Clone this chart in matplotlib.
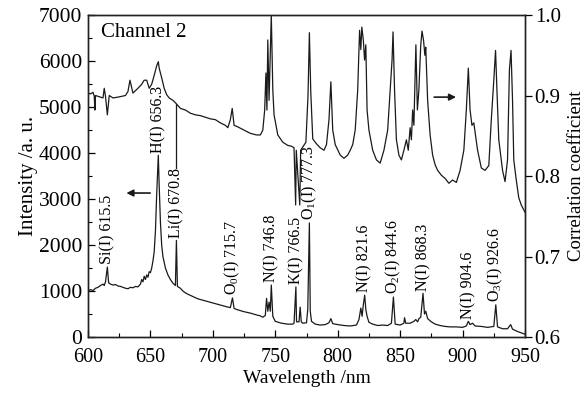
import numpy as np
import matplotlib
matplotlib.use("Agg")
import matplotlib.pyplot as plt
from matplotlib.ticker import MultipleLocator, FormatStrFormatter

plt.rcParams['font.family'] = ['Liberation Serif', 'DejaVu Serif']
plt.rcParams['mathtext.fontset'] = 'custom'
plt.rcParams['mathtext.rm'] = 'Liberation Serif'
plt.rcParams['mathtext.it'] = 'Liberation Serif:italic'

# emission spectrum (left axis)
wl_int = [600, 602, 604, 606, 608, 610, 612, 613, 614, 615.5, 616.5, 618, 620, 622, 624, 626, 628,
          630, 632, 634, 636, 638, 640, 642, 643, 644, 645, 646, 647, 648, 649, 650, 651, 652, 653,
          654, 655, 656.3, 657, 658, 659, 660, 662, 664, 666, 668, 670, 670.8, 671.6, 674, 676, 678,
          680, 684, 688, 692, 696, 700, 704, 708, 712, 714, 715.7, 717, 720, 725, 730, 735, 738, 740,
          742, 743, 744, 745, 746, 746.8, 748, 750, 755, 760, 764, 765, 766.5, 767, 769, 769.9, 770.8,
          772, 775, 776, 777.3, 778, 779, 782, 786, 790, 793, 794.5, 796, 800, 805, 810, 815, 817,
          818.5, 819.5, 820.5, 821.6, 822.5, 823.5, 825, 828, 832, 836, 840, 843, 844.6, 846, 850,
          853, 853.5, 854.5, 858, 861, 862.5, 864, 865, 866.5, 868.3, 869.5, 870.5, 872, 875, 878,
          882, 886, 890, 895, 900, 903, 904.6, 906, 908, 910, 915, 920, 925, 926.6, 928, 932, 936,
          938.5, 940, 944, 947, 950]
intensity = [1000, 1030, 1010, 1060, 1080, 1120, 1150, 1120, 1200, 1520, 1180, 1150, 1130, 1140, 1110,
             1100, 1080, 1060, 1050, 1080, 1070, 1100, 1090, 1150, 1250, 1200, 1320, 1250, 1350, 1300,
             1420, 1400, 1500, 1650, 1850, 2300, 3100, 3950, 3300, 2500, 2000, 1750, 1500, 1350, 1250,
             1170, 1120, 2100, 1100, 1060, 1000, 960, 930, 880, 830, 800, 770, 740, 710, 680, 650, 640,
             850, 620, 590, 550, 520, 480, 460, 430, 470, 840, 560, 760, 560, 1130, 450, 340, 300, 280,
             280, 300, 1090, 330, 330, 650, 330, 300, 310, 600, 2480, 560, 340, 280, 260, 270, 310, 400,
             290, 270, 250, 240, 260, 380, 630, 450, 700, 910, 600, 450, 320, 280, 250, 260, 250, 300,
             870, 280, 260, 300, 420, 300, 300, 340, 380, 330, 400, 430, 950, 500, 560, 400, 330, 280,
             250, 230, 220, 220, 210, 240, 340, 270, 300, 240, 230, 210, 230, 700, 220, 180, 180, 270,
             170, 120, 90, 60]

# correlation coefficient (right axis)
wl_corr = [600, 602, 604, 605, 605.5, 606, 610, 612, 613, 614, 615.5, 617, 620, 624, 627, 630, 632, 633.6,
           636, 640, 643, 645, 647, 649, 651, 653, 655, 656.3, 657, 659, 661, 663, 665, 668, 670, 674,
           678, 682, 686, 690, 694, 698, 702, 706, 710, 712, 714, 715.5, 717, 720, 725, 730, 735, 738,
           740, 741.5, 742.5, 743.3, 744, 745, 746.8, 748, 749, 752, 756, 760, 763, 765, 766.3, 766.8,
           769.6, 770.3, 772, 774.5, 776.2, 777.3, 778.4, 780, 783, 786, 789, 791, 793, 794.5, 796, 798,
           802, 805, 808, 810, 812, 814, 816, 817.5, 818.5, 819.3, 820.5, 821.5, 822.5, 823.5, 825, 828,
           831, 834, 837, 840, 843.5, 844.3, 845.5, 847, 849, 851, 853, 855, 856.5, 858, 859, 860, 861,
           862.6, 863.8, 865, 866.5, 867.5, 868.7, 869.8, 870.5, 872, 874, 876, 878, 880, 883, 886, 889,
           892, 895, 898, 901, 903, 904.6, 906, 907.5, 909, 912, 915, 918, 921, 923, 925, 926.4, 927.5,
           929, 932, 934, 936, 937.5, 938.8, 940, 941, 943, 945, 947, 950]
corr = [0.903, 0.902, 0.904, 0.899, 0.882, 0.900, 0.898, 0.897, 0.909, 0.899, 0.876, 0.900, 0.897,
        0.898, 0.899, 0.900, 0.905, 0.919, 0.903, 0.909, 0.914, 0.919, 0.919, 0.909, 0.914, 0.925, 0.937,
        0.942, 0.934, 0.922, 0.909, 0.901, 0.897, 0.894, 0.891, 0.884, 0.882, 0.878, 0.876, 0.875, 0.873,
        0.871, 0.870, 0.866, 0.863, 0.860, 0.870, 0.884, 0.863, 0.861, 0.857, 0.853, 0.851, 0.851, 0.857,
        0.882, 0.928, 0.882, 0.969, 0.894, 1.000, 0.907, 0.876, 0.851, 0.842, 0.838, 0.837, 0.835, 0.764,
        0.832, 0.764, 0.832, 0.836, 0.842, 0.900, 0.978, 0.905, 0.846, 0.840, 0.835, 0.832, 0.839, 0.870,
        0.917, 0.857, 0.839, 0.826, 0.822, 0.826, 0.832, 0.839, 0.857, 0.907, 0.981, 0.957, 0.985, 0.969,
        0.944, 0.963, 0.882, 0.857, 0.832, 0.820, 0.816, 0.832, 0.857, 0.944, 0.979, 0.907, 0.845, 0.826,
        0.820, 0.832, 0.845, 0.832, 0.860, 0.845, 0.882, 0.863, 0.963, 0.882, 0.907, 0.963, 0.980, 0.969,
        0.950, 0.960, 0.894, 0.851, 0.826, 0.814, 0.807, 0.801, 0.797, 0.791, 0.795, 0.792, 0.807, 0.832,
        0.882, 0.934, 0.882, 0.863, 0.866, 0.832, 0.810, 0.807, 0.813, 0.870, 0.919, 0.956, 0.907, 0.845,
        0.807, 0.793, 0.820, 0.932, 0.956, 0.894, 0.820, 0.795, 0.773, 0.764, 0.755]

# peak annotations
peak_wl = [615.5, 656.3, 670.8, 715.7, 746.8, 766.5, 777.3, 821.6, 844.6, 868.3, 904.6, 926.6]
peak_top = [1520, 3950, 2100, 850, 1130, 1090, 2480, 910, 870, 950, 340, 700]
peak_labels = ['Si(I) 615.5', 'H(I) 656.3', 'Li(I) 670.8', 'O$_0$(I) 715.7', 'N(I) 746.8',
               'K(I) 766.5', 'O$_1$(I) 777.3', 'N(I) 821.6', 'O$_2$(I) 844.6', 'N(I) 868.3',
               'N(I) 904.6', 'O$_3$(I) 926.6']

fig = plt.figure(figsize=(5.84, 3.95), dpi=100)
ax = fig.add_axes([0.1507, 0.1468, 0.7483, 0.8152])
ax2 = ax.twinx()

lc = '#1a1a1a'
ax.plot(wl_int, intensity, color=lc, lw=0.9)
ax2.plot(wl_corr, corr, color=lc, lw=0.9)

ax.set_xlim(600, 950)
ax.set_ylim(0, 7000)
ax2.set_ylim(0.6, 1.0)

ax.xaxis.set_major_locator(MultipleLocator(50))
ax.xaxis.set_minor_locator(MultipleLocator(25))
ax.yaxis.set_major_locator(MultipleLocator(1000))
ax.yaxis.set_minor_locator(MultipleLocator(500))
ax2.yaxis.set_major_locator(MultipleLocator(0.1))
ax2.yaxis.set_major_formatter(FormatStrFormatter('%.1f'))

ax.tick_params(axis='both', which='major', direction='in', length=5, width=0.9,
               top=False, right=False)
ax.tick_params(axis='x', which='major', labelsize=14.5, pad=8)
ax.tick_params(axis='y', which='major', labelsize=15.5, pad=4)
ax.tick_params(axis='both', which='minor', direction='in', length=3, width=0.8, top=False, right=False)
ax2.tick_params(axis='y', which='major', direction='out', length=5, width=0.9, labelsize=15, pad=2)

for a in (ax, ax2):
    for s in a.spines.values():
        s.set_linewidth(1.0)
        s.set_color('#222222')

ax.set_xlabel('Wavelength /nm', fontsize=14, labelpad=2)
ax.set_ylabel('Intensity /a. u.', fontsize=15, labelpad=1)
ax2.set_ylabel('Correlation coefficient', fontsize=13.5, labelpad=5)

ax.text(0.03, 0.945, 'Channel 2', transform=ax.transAxes, fontsize=15, va='center', ha='left')

texts = []
for x, top, lab in zip(peak_wl, peak_top, peak_labels):
    t = ax.annotate(lab, xy=(x, top), xytext=(0, 2), textcoords='offset points',
                    rotation=90, ha='center', va='bottom', fontsize=11.5)
    texts.append(t)

# leader from the Li label up to the correlation curve
fig.canvas.draw()
li = peak_labels.index('Li(I) 670.8')
bb = texts[li].get_window_extent()
y_lab = ax.transData.inverted().transform((0, bb.y1))[1]
c_li = np.interp(peak_wl[li], wl_corr, corr)
y_cur = (c_li - 0.6) / 0.4 * 7000
ax.plot([peak_wl[li], peak_wl[li]], [y_lab, y_cur], color=lc, lw=0.9)

# arrows pointing to each axis
ax.annotate('', xy=(628.5, 3130), xytext=(652, 3130),
            arrowprops=dict(arrowstyle='-|>', color=lc, lw=1.2, mutation_scale=10))
ax2.annotate('', xy=(897, 0.898), xytext=(875, 0.898),
             arrowprops=dict(arrowstyle='-|>', color=lc, lw=1.2, mutation_scale=10))

fig.savefig('out.png', dpi=100)
